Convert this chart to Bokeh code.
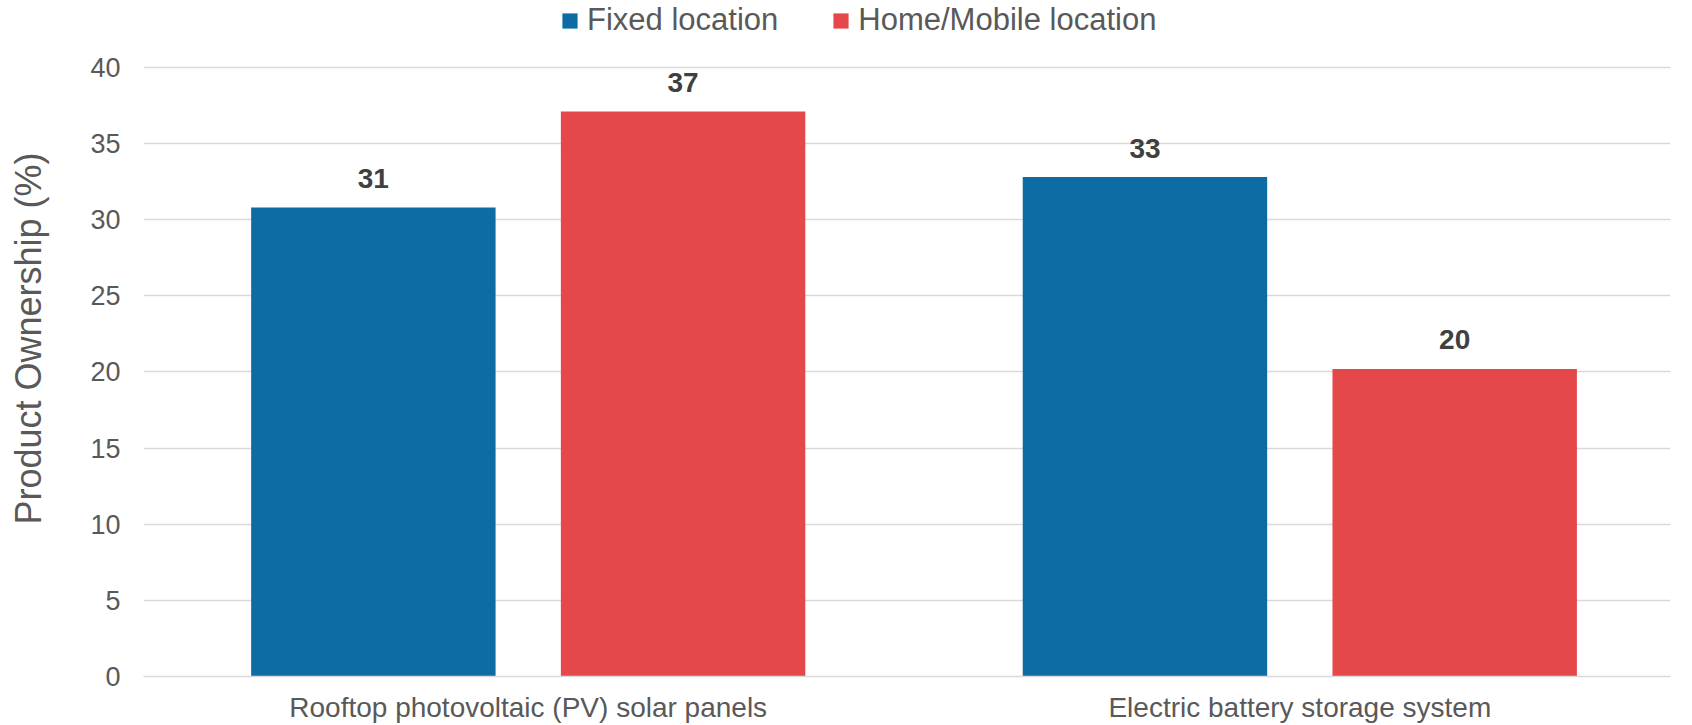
from bokeh.plotting import figure
from bokeh.models import (ColumnDataSource, Range1d, Legend, LegendItem,
                          FixedTicker, CustomJSTickFormatter)
from bokeh.core.properties import value
from bokeh.transform import dodge
from bokeh.embed import file_html
from bokeh.resources import INLINE

categories = ["Rooftop photovoltaic (PV) solar panels", "Electric battery storage system"]
series_names = ["Fixed location", "Home/Mobile location"]
fixed_values = [30.8, 32.8]
mobile_values = [37.1, 20.2]
y_ticks = [0, 5, 10, 15, 20, 25, 30, 35, 40]

BLUE = "#0e6ca5"
RED = "#e5484b"
TEXT = "#595959"
FONT = "Liberation Sans"

idx = list(range(len(categories)))
src = ColumnDataSource(dict(
    pos=idx,
    fixed=fixed_values,
    mobile=mobile_values,
    fixed_lbl=[f"{v:.0f}" for v in fixed_values],
    mobile_lbl=[f"{v:.0f}" for v in mobile_values],
))

# the value range runs a little past 40 so the legend fits inside the plot area
p = figure(
    x_range=Range1d(-0.4986, len(categories) - 1 + 0.4804),
    y_range=Range1d(0, 44.39),
    width=1692, height=725,
    output_backend="svg", toolbar_location=None,
    min_border_left=143, min_border_right=22,
    min_border_top=0, min_border_bottom=48,
)
p.outline_line_color = None
p.background_fill_color = "white"
p.border_fill_color = "white"

offset = 0.2007
bw = 0.3168
r_fixed = p.vbar(x=dodge("pos", -offset), top="fixed", width=bw,
                 source=src, fill_color=BLUE, line_color=None)
r_mobile = p.vbar(x=dodge("pos", offset), top="mobile", width=bw,
                  source=src, fill_color=RED, line_color=None)

# value labels above each bar
for col, lbl, off in (("fixed", "fixed_lbl", -offset), ("mobile", "mobile_lbl", offset)):
    p.text(x=dodge("pos", off), y=col, text=lbl, source=src,
           text_align="center", text_baseline="alphabetic", y_offset=-29,
           text_font=value(FONT), text_font_style="bold", text_font_size="28px",
           text_color="#404040")

# y axis
p.yaxis.ticker = FixedTicker(ticks=y_ticks)
p.yaxis.axis_line_color = None
p.yaxis.major_tick_line_color = None
p.yaxis.minor_tick_line_color = None
p.yaxis.major_label_text_font = FONT
p.yaxis.major_label_text_font_size = "27px"
p.yaxis.major_label_text_color = TEXT
p.yaxis.major_label_standoff = 17
p.yaxis.axis_label = "Product Ownership (%)"
p.yaxis.axis_label_text_font = FONT
p.yaxis.axis_label_text_font_size = "36px"
p.yaxis.axis_label_text_font_style = "normal"
p.yaxis.axis_label_text_color = TEXT
p.yaxis.axis_label_standoff = 38

# x axis with category names
p.xaxis.ticker = FixedTicker(ticks=idx)
p.xaxis.formatter = CustomJSTickFormatter(args=dict(names=categories),
                                          code="return names[index];")
p.xaxis.axis_line_color = "#d9d9d9"
p.xaxis.axis_line_width = 1.5
p.xaxis.major_tick_line_color = None
p.xaxis.minor_tick_line_color = None
p.xaxis.major_label_text_font = FONT
p.xaxis.major_label_text_font_size = "28px"
p.xaxis.major_label_text_color = TEXT
p.xaxis.major_label_standoff = 9

p.xgrid.grid_line_color = None
p.ygrid.grid_line_color = "#d9d9d9"
p.ygrid.grid_line_width = 1.5

legend = Legend(
    items=[LegendItem(label=series_names[0], renderers=[r_fixed]),
           LegendItem(label=series_names[1], renderers=[r_mobile])],
    orientation="horizontal",
    location=(417, 638),
    glyph_width=19, glyph_height=19,
    label_standoff=8, spacing=53,
    padding=0, margin=0,
    label_text_font=FONT, label_text_font_size="31px", label_text_color=TEXT,
    border_line_color=None, background_fill_alpha=0,
)
p.add_layout(legend, "center")

open("out.html", "w").write(file_html(p, INLINE))
